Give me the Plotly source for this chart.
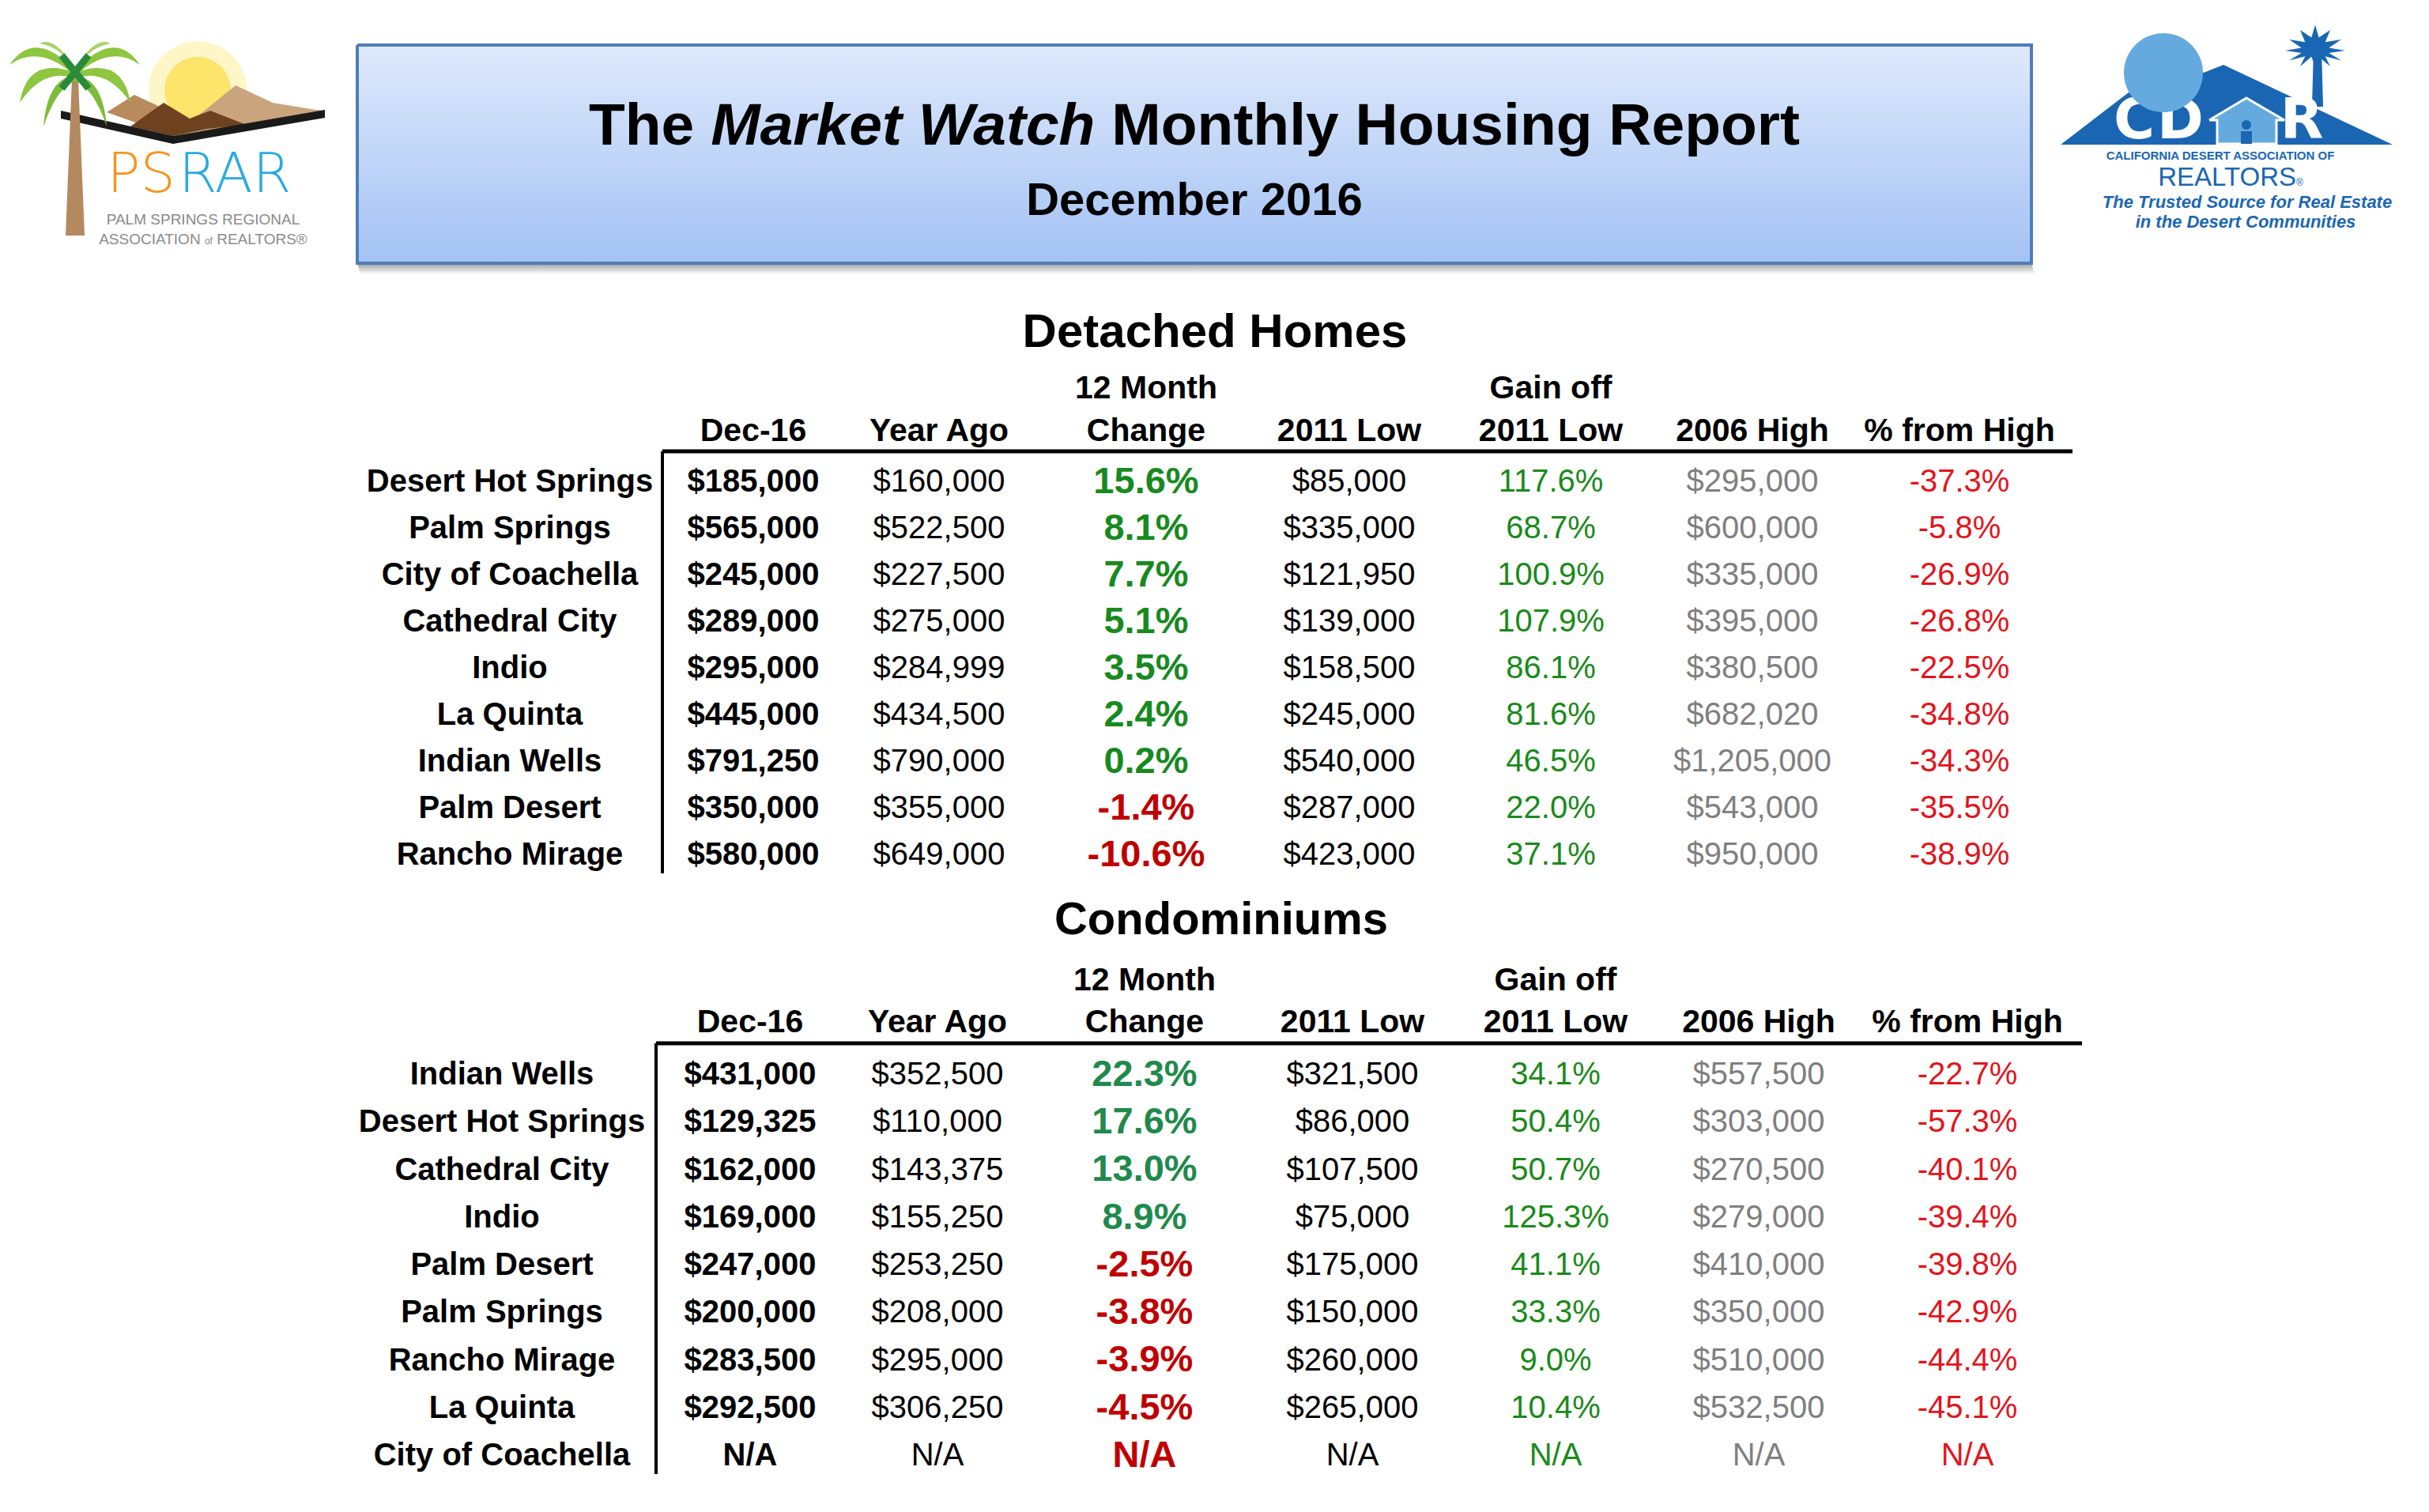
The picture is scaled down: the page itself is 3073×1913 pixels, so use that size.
import numpy as np
import plotly.graph_objects as go

W, H = 3073, 1913
FONT = "Liberation Sans, Arial, Helvetica, sans-serif"
NARROW = "Liberation Sans Narrow, Liberation Sans, Arial, sans-serif"

# ---------------- data ----------------
title_main = "The <i>Market Watch</i> Monthly Housing Report"
title_sub = "December 2016"
section_titles = ["Detached Homes", "Condominiums"]
header_line1 = ["", "", "12 Month", "", "Gain off", "", ""]
header_line2 = ["Dec-16", "Year Ago", "Change", "2011 Low", "2011 Low", "2006 High", "% from High"]

det_cities = ["Desert Hot Springs", "Palm Springs", "City of Coachella", "Cathedral City",
              "Indio", "La Quinta", "Indian Wells", "Palm Desert", "Rancho Mirage"]
det_dec16 = [185000, 565000, 245000, 289000, 295000, 445000, 791250, 350000, 580000]
det_year_ago = [160000, 522500, 227500, 275000, 284999, 434500, 790000, 355000, 649000]
det_change = [15.6, 8.1, 7.7, 5.1, 3.5, 2.4, 0.2, -1.4, -10.6]
det_low2011 = [85000, 335000, 121950, 139000, 158500, 245000, 540000, 287000, 423000]
det_gain = [117.6, 68.7, 100.9, 107.9, 86.1, 81.6, 46.5, 22.0, 37.1]
det_high2006 = [295000, 600000, 335000, 395000, 380500, 682020, 1205000, 543000, 950000]
det_from_high = [-37.3, -5.8, -26.9, -26.8, -22.5, -34.8, -34.3, -35.5, -38.9]

condo_cities = ["Indian Wells", "Desert Hot Springs", "Cathedral City", "Indio", "Palm Desert",
                "Palm Springs", "Rancho Mirage", "La Quinta", "City of Coachella"]
condo_dec16 = [431000, 129325, 162000, 169000, 247000, 200000, 283500, 292500, None]
condo_year_ago = [352500, 110000, 143375, 155250, 253250, 208000, 295000, 306250, None]
condo_change = [22.3, 17.6, 13.0, 8.9, -2.5, -3.8, -3.9, -4.5, None]
condo_low2011 = [321500, 86000, 107500, 75000, 175000, 150000, 260000, 265000, None]
condo_gain = [34.1, 50.4, 50.7, 125.3, 41.1, 33.3, 9.0, 10.4, None]
condo_high2006 = [557500, 303000, 270500, 279000, 410000, 350000, 510000, 532500, None]
condo_from_high = [-22.7, -57.3, -40.1, -39.4, -39.8, -42.9, -44.4, -45.1, None]

# ---------------- layout / style ----------------
GREEN_CHG = ["#178a1f", "#1f8a4c"]
RED_CHG = "#c00000"
GREEN_GAIN = "#1a8a1a"
GRAY_HIGH = "#7f7f7f"
RED_HIGH = "#e3141c"
TEXT_DY = 5


def money(v):
    return "N/A" if v is None else "${:,.0f}".format(v)


def pct(v):
    return "N/A" if v is None else "{:.1f}%".format(v)


fig = go.Figure()


def add_text(xs, ys, texts, size, color="black", weight="normal", family=FONT,
             style="normal", pos="middle center"):
    fig.add_trace(go.Scatter(
        x=list(xs), y=[y + TEXT_DY for y in ys], text=list(texts), mode="text",
        textposition=pos,
        textfont=dict(family=family, size=size, color=color, weight=weight, style=style),
        hoverinfo="skip", showlegend=False, cliponaxis=False))


def fill_poly(xs, ys, color, line_color=None, line_width=0):
    fig.add_trace(go.Scatter(
        x=list(xs), y=list(ys), mode="lines", fill="toself", fillcolor=color,
        line=dict(color=line_color or color, width=line_width),
        hoverinfo="skip", showlegend=False))


# ---------------- title box ----------------
bx0, bx1, by0, by1 = 452, 2570, 57, 333
fig.add_trace(go.Scatter(
    x=[bx0, bx1, bx1 + 4, bx0 + 4, bx0], y=[by1, by1, by1 + 14, by1 + 14, by1],
    mode="lines", fill="toself", line=dict(width=0, color="rgba(0,0,0,0)"),
    fillgradient=dict(type="vertical", start=by1, stop=by1 + 14,
                      colorscale=[[0, "#9c9c9c"], [1, "#ffffff"]]),
    hoverinfo="skip", showlegend=False))
fig.add_trace(go.Scatter(
    x=[bx0, bx1, bx1, bx0, bx0], y=[by0, by0, by1, by1, by0],
    mode="lines", fill="toself", line=dict(width=4, color="#4f7db8"),
    fillgradient=dict(type="vertical", start=by0, stop=by1,
                      colorscale=[[0, "#dfe9fb"], [1, "#a3c2f4"]]),
    hoverinfo="skip", showlegend=False))
add_text([(bx0 + bx1) / 2], [159], [title_main], 75, weight="bold")
add_text([(bx0 + bx1) / 2], [252], [title_sub], 58, weight="bold")

# ---------------- tables ----------------
tables = [
    dict(cities=det_cities, cols=[det_dec16, det_year_ago, det_change, det_low2011,
                                  det_gain, det_high2006, det_from_high],
         title_x=1537, title_y=419, title_size=60,
         h1_y=489, h2_y=543, row_y0=607, row_dy=59.0,
         name_x=645, col_x=[953, 1188, 1450, 1707, 1962, 2217, 2479],
         rule_y=571, rule_x0=838, rule_x1=2622, vline_y1=1105),
    dict(cities=condo_cities, cols=[condo_dec16, condo_year_ago, condo_change, condo_low2011,
                                    condo_gain, condo_high2006, condo_from_high],
         title_x=1545, title_y=1162, title_size=58,
         h1_y=1238, h2_y=1291, row_y0=1357, row_dy=60.25,
         name_x=635, col_x=[949, 1186, 1448, 1711, 1968, 2225, 2489],
         rule_y=1320, rule_x0=830, rule_x1=2634, vline_y1=1865),
]

shapes = []
for ti, t in enumerate(tables):
    add_text([t["title_x"]], [t["title_y"]], [section_titles[ti]], t["title_size"], weight="bold")
    add_text(t["col_x"], [t["h1_y"]] * 7, header_line1, 41, weight="bold")
    add_text(t["col_x"], [t["h2_y"]] * 7, header_line2, 41, weight="bold")
    n = len(t["cities"])
    ys = [t["row_y0"] + i * t["row_dy"] for i in range(n)]
    add_text([t["name_x"]] * n, ys, t["cities"], 40, weight="bold")
    dec16, yago, chg, low, gain, high, fhigh = t["cols"]
    cx = t["col_x"]
    add_text([cx[0]] * n, ys, [money(v) for v in dec16], 40, weight="bold")
    add_text([cx[1]] * n, ys, [money(v) for v in yago], 40)
    chg_colors = [RED_CHG if (v is None or v < 0) else GREEN_CHG[ti] for v in chg]
    add_text([cx[2]] * n, ys, [pct(v) for v in chg], 47, color=chg_colors, weight="bold")
    add_text([cx[3]] * n, ys, [money(v) for v in low], 40)
    add_text([cx[4]] * n, ys, [pct(v) for v in gain], 40, color=GREEN_GAIN)
    add_text([cx[5]] * n, ys, [money(v) for v in high], 40, color=GRAY_HIGH)
    add_text([cx[6]] * n, ys, [pct(v) for v in fhigh], 40, color=RED_HIGH)
    shapes.append(dict(type="line", x0=t["rule_x0"], x1=t["rule_x1"], y0=t["rule_y"], y1=t["rule_y"],
                       line=dict(color="black", width=5)))
    shapes.append(dict(type="line", x0=t["rule_x0"], x1=t["rule_x0"], y0=t["rule_y"], y1=t["vline_y1"],
                       line=dict(color="black", width=4)))

# ---------------- PSRAR logo (left) ----------------
shapes.append(dict(type="circle", x0=188, y0=52, x1=312, y1=176, fillcolor="#fff6c8", line=dict(width=0), layer="below"))
shapes.append(dict(type="circle", x0=208, y0=72, x1=292, y1=156, fillcolor="#fde46a", line=dict(width=0), layer="below"))
fill_poly([219, 298, 345, 400, 411, 219], [172, 108, 130, 139, 140, 172], "#c9a47c")
fill_poly([135, 170, 200, 232, 219, 135], [142, 120, 134, 158, 172, 142], "#b98a5c")
fill_poly([165, 207, 240, 266, 312, 262, 219, 165], [160, 130, 150, 140, 158, 163, 172, 160], "#6e421f")
fill_poly([77, 219, 411, 411, 219, 77, 77], [140, 172, 139, 149, 182, 150, 140], "#1a1a1a")
fill_poly([91, 99, 107, 83, 91], [100, 100, 298, 298, 100], "#b5895f")
fronds = [
    ("M 95 90 Q 45 35 12 82 Q 50 55 95 96 Z", "#8dc63f"),
    ("M 95 92 Q 35 70 25 130 Q 55 85 95 99 Z", "#8dc63f"),
    ("M 93 96 Q 60 100 55 160 Q 72 110 96 102 Z", "#7dbb3a"),
    ("M 95 90 Q 145 35 177 82 Q 140 55 95 96 Z", "#8dc63f"),
    ("M 95 92 Q 155 70 165 130 Q 135 85 95 99 Z", "#8dc63f"),
    ("M 97 96 Q 130 100 135 160 Q 118 110 94 102 Z", "#7dbb3a"),
    ("M 95 88 Q 70 45 50 55 Q 80 60 95 92 Z", "#a8d36a"),
    ("M 95 88 Q 120 45 140 55 Q 110 60 95 92 Z", "#a8d36a"),
]
for p, c in fronds:
    shapes.append(dict(type="path", path=p, fillcolor=c, line=dict(width=0)))
shapes.append(dict(type="path", path="M 78 70 L 112 112 M 112 70 L 78 112", line=dict(color="#2a8a3a", width=9)))
LOGO_FONT = "DejaVu Sans, Open Sans, sans-serif"
add_text([222], [220], ["PS"], 70, color="#f7941d", family=LOGO_FONT, weight=200, pos="middle left")
add_text([226], [220], ["RAR"], 70, color="#27aae1", family=LOGO_FONT, weight=200, pos="middle right")
add_text([257], [287], ["PALM SPRINGS REGIONAL<br>ASSOCIATION <span style='font-size:12px'>of</span> REALTORS®"],
         19, color="#8a8a8a")

# ---------------- CDAR logo (right) ----------------
BLUE = "#1a66b3"
LBLUE = "#64aadf"
shapes.append(dict(type="circle", x0=2687, y0=42, x1=2787, y1=142, fillcolor=LBLUE, line=dict(width=0)))
fill_poly([2607, 2758, 2788, 2813, 3027, 2607], [183, 67, 92, 82, 183, 183], BLUE)
fill_poly([2927, 2937, 2939, 2925, 2927], [60, 60, 135, 135, 60], BLUE)
ang = np.linspace(0, 2 * np.pi, 25)
rad = np.where(np.arange(25) % 2 == 0, 38, 18)
fill_poly(2929 + rad * np.cos(ang), 58 + 0.7 * rad * np.sin(ang) + 6 * np.abs(np.cos(ang)), BLUE)
fill_poly([2795, 2842, 2890, 2880, 2880, 2805, 2805, 2795], [152, 124, 152, 152, 182, 182, 152, 152],
          LBLUE, line_color="white", line_width=3)
shapes.append(dict(type="circle", x0=2836, y0=152, x1=2848, y1=164, fillcolor=BLUE, line=dict(width=0)))
fill_poly([2835, 2849, 2849, 2835, 2835], [166, 166, 182, 182, 166], BLUE)
add_text([2726], [152], ["C"], 71, color="white", weight="bold", family="DejaVu Sans, sans-serif", pos="middle left")
add_text([2729], [152], ["D"], 71, color="white", weight="bold", family="DejaVu Sans, sans-serif", pos="middle right")
add_text([2912], [152], ["R"], 71, color="white", weight="bold", family="DejaVu Sans, sans-serif")
add_text([2809], [193], ["CALIFORNIA DESERT ASSOCIATION OF"], 15, color=BLUE, weight="bold", family=NARROW)
add_text([2822], [222], ["REALTORS<span style='font-size:12px'>®</span>"], 33, color=BLUE)
add_text([2843], [252], ["The Trusted Source for Real Estate"], 22, color=BLUE, weight="bold", style="italic")
add_text([2841], [277], ["in the Desert Communities"], 22, color=BLUE, weight="bold", style="italic")

fig.update_layout(
    width=W, height=H, margin=dict(l=0, r=0, t=0, b=0),
    paper_bgcolor="white", plot_bgcolor="white", showlegend=False,
    xaxis=dict(range=[0, W], visible=False, fixedrange=True),
    yaxis=dict(range=[H, 0], visible=False, fixedrange=True),
    shapes=shapes,
)

fig.write_html("out.html", config={"displayModeBar": False, "staticPlot": True},
               post_script="document.body.style.margin='0';document.body.style.overflow='hidden';")
